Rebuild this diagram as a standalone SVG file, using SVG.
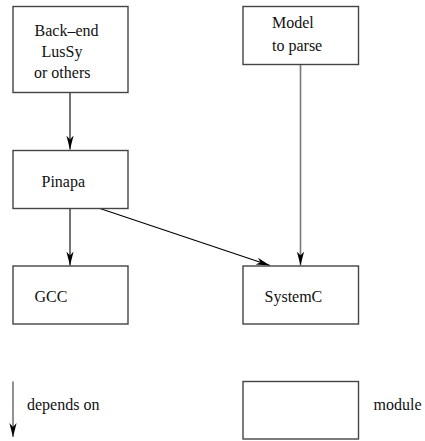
<svg xmlns="http://www.w3.org/2000/svg" width="425" height="441" viewBox="0 0 425 441">
<style>
.box{fill:#fff;stroke:#444;stroke-width:1.4}
text{font-family:"Liberation Serif","Times New Roman",Times,Tinos,"Nimbus Roman","Nimbus Roman No9 L",FreeSerif,"Noto Serif","DejaVu Serif",serif;font-size:16px;fill:#111}
.c{fill:none;stroke:#000;stroke-width:1.1}
.g{fill:none;stroke:#777;stroke-width:1.6}
</style>
<defs>
<marker id="ah" markerUnits="userSpaceOnUse" markerWidth="16" markerHeight="10" viewBox="-14 -5 16 10" refX="0" refY="0" orient="auto">
<path d="M0,0 L-14,-3.6 L-10,0 L-14,3.6 Z" fill="#000"/>
</marker>
</defs>
<rect width="425" height="441" fill="#fff"/>
<g id="connectors">
<line class="c" x1="70" y1="92.5" x2="70" y2="149.5" marker-end="url(#ah)"/>
<line class="c" x1="70" y1="208.5" x2="70" y2="265.5" marker-end="url(#ah)"/>
<line class="g" x1="300.5" y1="64.5" x2="300.5" y2="265.5" marker-end="url(#ah)"/>
<line class="c" x1="100" y1="208.5" x2="270" y2="265.5" marker-end="url(#ah)"/>
</g>
<g id="backend">
<rect class="box" x="13" y="6.5" width="115" height="86"/>
<text x="34.5" y="36">Back–end</text>
<text x="41.5" y="57">LusSy</text>
<text x="34" y="78">or others</text>
</g>
<g id="model">
<rect class="box" x="243" y="6.5" width="115.5" height="58"/>
<text x="272" y="28">Model</text>
<text x="272" y="50.5">to parse</text>
</g>
<g id="pinapa">
<rect class="box" x="13" y="150.5" width="115" height="58"/>
<text x="41.5" y="187">Pinapa</text>
</g>
<g id="gcc">
<rect class="box" x="13" y="266" width="115" height="58"/>
<text x="34.5" y="302">GCC</text>
</g>
<g id="systemc">
<rect class="box" x="243" y="266" width="115.5" height="58"/>
<text x="264.5" y="302">SystemC</text>
</g>
<g id="legend">
<line class="g" x1="13" y1="381.5" x2="13" y2="437" marker-end="url(#ah)"/>
<text x="27" y="410">depends on</text>
<rect class="box" x="243" y="381.5" width="115.5" height="57.5"/>
<text x="373.5" y="410">module</text>
</g>
</svg>
